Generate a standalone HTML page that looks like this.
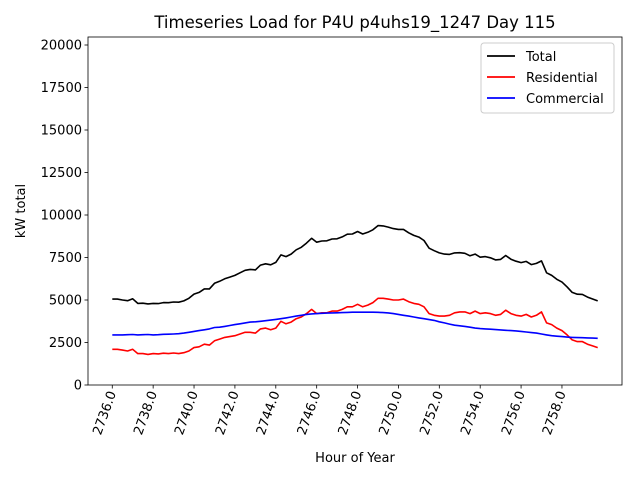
<!DOCTYPE html>
<html><head><meta charset="utf-8"><style>
body{margin:0;background:#fff;width:640px;height:480px;overflow:hidden}
svg text{font-family:"DejaVu Sans","Liberation Sans",sans-serif;fill:#000}
</style></head><body>
<svg id="chart" width="640" height="480" xmlns="http://www.w3.org/2000/svg"></svg>
<script>
const startHour = 2736;
const stepHours = 0.25;
const totalLoad = [5050,5050,5000,4960,5070,4800,4810,4770,4800,4790,4850,4840,4880,4870,4950,5100,5350,5450,5650,5650,5980,6100,6250,6350,6450,6600,6750,6800,6770,7050,7130,7070,7210,7650,7550,7700,7950,8100,8350,8630,8400,8470,8480,8590,8600,8710,8870,8880,9030,8885,8985,9130,9375,9360,9290,9200,9150,9150,8950,8800,8700,8500,8050,7900,7770,7700,7680,7770,7780,7750,7600,7700,7520,7550,7480,7360,7390,7620,7400,7280,7200,7270,7080,7150,7300,6600,6450,6220,6050,5770,5450,5340,5330,5170,5060,4950];
const residentialLoad = [2100,2100,2050,2000,2100,1850,1850,1800,1850,1830,1870,1850,1880,1850,1900,2000,2200,2250,2400,2350,2600,2700,2800,2850,2900,3000,3100,3100,3050,3300,3350,3250,3350,3750,3600,3700,3900,4000,4200,4450,4200,4250,4250,4350,4350,4450,4600,4600,4750,4600,4700,4850,5100,5100,5050,5000,5000,5050,4900,4800,4750,4600,4200,4100,4050,4050,4100,4250,4300,4300,4200,4350,4200,4250,4200,4100,4150,4400,4200,4100,4050,4150,4000,4100,4300,3650,3550,3350,3200,2950,2650,2550,2550,2400,2300,2200];
const commercialLoad = [2950,2950,2950,2960,2970,2950,2960,2970,2950,2960,2980,2990,3000,3020,3050,3100,3150,3200,3250,3300,3380,3400,3450,3500,3550,3600,3650,3700,3720,3750,3780,3820,3860,3900,3950,4000,4050,4100,4150,4180,4200,4220,4230,4240,4250,4260,4270,4280,4280,4285,4285,4280,4275,4260,4240,4200,4150,4100,4050,4000,3950,3900,3850,3800,3720,3650,3580,3520,3480,3450,3400,3350,3320,3300,3280,3260,3240,3220,3200,3180,3150,3120,3080,3050,3000,2950,2900,2870,2850,2820,2800,2790,2780,2770,2760,2750];
const yTicks = [0,2500,5000,7500,10000,12500,15000,17500,20000];
const xTicks = [2736,2738,2740,2742,2744,2746,2748,2750,2752,2754,2756,2758];
const seriesNames = ["Total","Residential","Commercial"];

const NS="http://www.w3.org/2000/svg";
const svg=document.getElementById('chart');
const L=88,R=622,T=37,B=385;
const n=totalLoad.length;
const xMinD=startHour, xMaxD=startHour+(n-1)*stepHours, pad=(xMaxD-xMinD)*0.05;
const xs=v=>L+(v-(xMinD-pad))/((xMaxD+pad)-(xMinD-pad))*(R-L);
const yMax=20000/0.9412;
const ys=v=>B-(v/20000)*(B-45);
function mk(t,a){const e=document.createElementNS(NS,t);for(const k in a)e.setAttribute(k,a[k]);svg.appendChild(e);return e;}

yTicks.forEach(v=>{
  const y=ys(v);
  const tk=mk('line',{x1:L-3.5,x2:L,y1:y,y2:y,stroke:'#000','stroke-width':0.8});
  
  
  const t=mk('text',{x:L-6,y:y+4.5,'text-anchor':'end','font-size':13});
  t.textContent=v;
  
  
});
xTicks.forEach(v=>{
  const x=xs(v);
  const tk=mk('line',{x1:x,x2:x,y1:B,y2:B+3.5,stroke:'#000','stroke-width':0.8});
  
  
  const t=mk('text',{x:x+4,y:B+8,'text-anchor':'end','font-size':13,transform:`rotate(-70 ${x+4} ${B+8})`});
  t.textContent=v.toFixed(1);
  
  
});
const series=[[totalLoad,'#000'],[residentialLoad,'#f00'],[commercialLoad,'#00f']];
series.forEach((s,i)=>{
  const pts=s[0].map((v,j)=>xs(startHour+j*stepHours).toFixed(1)+','+ys(v).toFixed(1)).join(' ');
  const p=mk('polyline',{points:pts,fill:'none',stroke:s[1],'stroke-width':1.6,'stroke-linejoin':'round'});
  
  
});
const fr=mk('rect',{x:L,y:T,width:R-L,height:B-T,fill:'none',stroke:'#000','stroke-width':0.8});


const ti=mk('text',{x:(L+R)/2,y:28,'text-anchor':'middle','font-size':16.5});
ti.textContent='Timeseries Load for P4U p4uhs19_1247  Day 115';


const xl=mk('text',{x:(L+R)/2,y:462,'text-anchor':'middle','font-size':13});
xl.textContent='Hour of Year';


const yl=mk('text',{x:25,y:(T+B)/2,'text-anchor':'middle','font-size':13,transform:`rotate(-90 25 ${(T+B)/2})`});
yl.textContent='kW total';


const lg=mk('rect',{x:481,y:43,width:133,height:70,rx:3,fill:'#fff','fill-opacity':0.8,stroke:'#ccc','stroke-width':1});


series.forEach((s,i)=>{
  const y=56+i*21;
  const ln=mk('line',{x1:487,x2:515,y1:y,y2:y,stroke:s[1],'stroke-width':1.8});
  
  
  const t=mk('text',{x:526,y:y+5,'font-size':13});
  t.textContent=seriesNames[i];
  
  
});
</script>
</body></html>
